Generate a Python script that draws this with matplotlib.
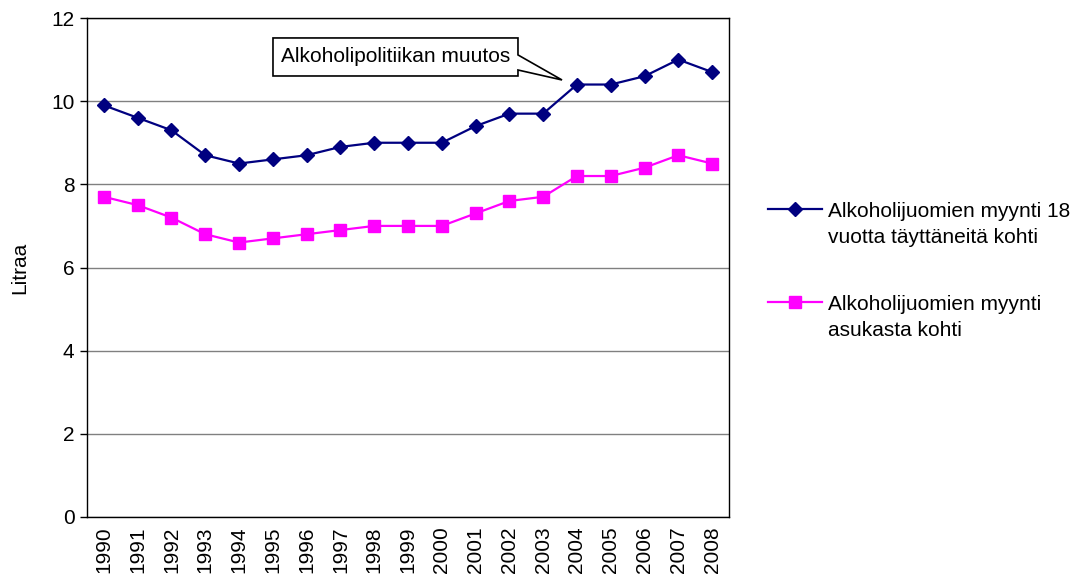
import matplotlib
matplotlib.use("Agg")
import matplotlib.pyplot as plt
from matplotlib.patches import Polygon
import numpy as np

# data
years = [str(y) for y in range(1990, 2009)]
per_adult = [9.9, 9.6, 9.3, 8.7, 8.5, 8.6, 8.7, 8.9, 9.0, 9.0, 9.0,
             9.4, 9.7, 9.7, 10.4, 10.4, 10.6, 11.0, 10.7]
per_capita = [7.7, 7.5, 7.2, 6.8, 6.6, 6.7, 6.8, 6.9, 7.0, 7.0, 7.0,
              7.3, 7.6, 7.7, 8.2, 8.2, 8.4, 8.7, 8.5]
label_adult = "Alkoholijuomien myynti 18\nvuotta täyttäneitä kohti"
label_capita = "Alkoholijuomien myynti\nasukasta kohti"
note = "Alkoholipolitiikan muutos"

plt.rcParams['font.family'] = ['Liberation Sans', 'DejaVu Sans']
fs = 15

fig = plt.figure(figsize=(10.78, 5.86), dpi=100)
ax = fig.add_axes([87/1078, 1-517/586, 642/1078, 499/586])

x = np.arange(len(years))
ax.plot(x, per_adult, color='#000080', lw=1.6, marker='D', ms=6.8,
        mfc='#000080', mec='#000080', label=label_adult, zorder=3)
ax.plot(x, per_capita, color='#FF00FF', lw=1.6, marker='s', ms=8,
        mfc='#FF00FF', mec='#FF00FF', label=label_capita, zorder=3)

ax.set_xlim(-0.5, len(years) - 0.5)
ax.set_ylim(0, 12)
ax.set_yticks(range(0, 13, 2))
ax.set_xticks(x)
ax.set_xticklabels(years, rotation=90, fontsize=fs)
ax.tick_params(axis='x', length=0, pad=7)
ax.tick_params(axis='y', length=5, width=1, labelsize=fs, pad=4)
ax.yaxis.grid(True, color='#808080', lw=1)
ax.set_axisbelow(True)
for s in ax.spines.values():
    s.set_color('black')
    s.set_linewidth(1)
ax.set_ylabel('Litraa', fontsize=fs, labelpad=16)

# callout box with tail
verts = [(0.2897, 0.960), (0.6713, 0.960), (0.6713, 0.926), (0.7399, 0.8758),
         (0.6713, 0.8958), (0.6713, 0.8838), (0.2897, 0.8838)]
ax.add_patch(Polygon(verts, closed=True, transform=ax.transAxes,
                     facecolor='white', edgecolor='black', lw=1.2, zorder=4))
ax.text(0.4805, 0.922, note, transform=ax.transAxes, ha='center', va='center',
        fontsize=fs, zorder=5)

leg = ax.legend(loc='center left', bbox_to_anchor=(1.031, 0.493), frameon=False,
                fontsize=fs, handlelength=2.6, handletextpad=0.3,
                labelspacing=2.3)
for t in leg.get_texts():
    t.set_linespacing(1.5)
# put the marker on the first text line, like excel does
for col in leg._legend_handle_box.get_children():
    for row in col.get_children():
        row.align = 'top'

fig.savefig('out.png', dpi=100)
